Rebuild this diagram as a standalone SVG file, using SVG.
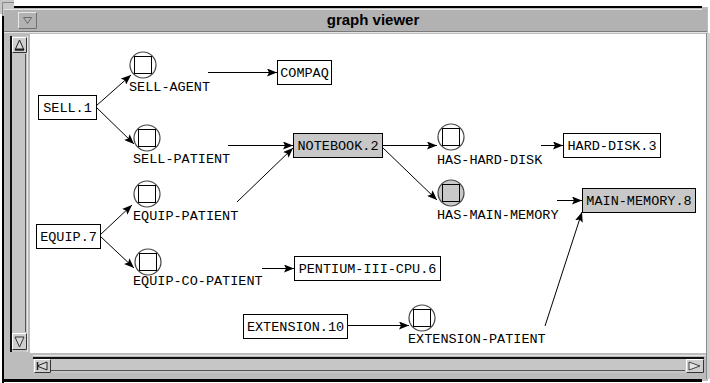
<svg xmlns="http://www.w3.org/2000/svg" width="710" height="383" viewBox="0 0 710 383">
<defs>
<style>
.lbl{font-family:"Liberation Mono","DejaVu Sans Mono",monospace;font-size:13.5px;fill:#000}
.box{fill:#fff;stroke:#000;stroke-width:1}
.gbox{fill:#c8c8c8;stroke:#000;stroke-width:1}
.ring{fill:#fff;stroke:#444;stroke-width:1.2}
.gring{fill:#c8c8c8;stroke:#444;stroke-width:1.2}
.sq{fill:none;stroke:#000;stroke-width:1}
.edge{fill:none;stroke:#000;stroke-width:1;marker-end:url(#arr)}
.title{font-family:"Liberation Sans",Arial,sans-serif;font-size:15px;font-weight:bold;fill:#000}
</style>
<marker id="arr" viewBox="0 0 10 8" refX="10" refY="4" markerWidth="10" markerHeight="8" markerUnits="userSpaceOnUse" orient="auto">
<path d="M0,0 L10,4 L0,8 L2,4 z" fill="#000"/>
</marker>
</defs>
<g id="window">
<rect x="0" y="0" width="710" height="383" fill="#fff"/>
<rect x="3" y="7" width="705" height="374" fill="#bcbcbc"/>
<rect x="0" y="0" width="14" height="14" fill="#c8c8c8"/>
<path d="M2.5,16 V2.5 H14" fill="none" stroke="#888" stroke-width="1"/>
<rect x="14" y="6" width="688" height="2" fill="#000"/>
<rect x="2" y="16" width="2" height="367" fill="#000"/>
<rect x="2" y="379" width="700" height="3" fill="#000"/>
<rect x="4" y="9" width="703" height="23" fill="#b2b2b2"/>
<line x1="4" y1="9.5" x2="702" y2="9.5" stroke="#e4e4e4"/>
<line x1="4" y1="31.5" x2="707" y2="31.5" stroke="#7a7a7a"/>
<line x1="4" y1="32.5" x2="707" y2="32.5" stroke="#e4e4e4"/>
<rect x="18.5" y="12.5" width="18" height="16" fill="#b2b2b2" stroke="#e8e8e8"/>
<path d="M36.5,12.5 V28.5 H18.5" fill="none" stroke="#707070"/>
<path d="M23.5,17.5 H31.5 L27.5,23.5 Z" fill="none" stroke="#6a6a6a"/>
<text class="title" x="373" y="25" text-anchor="middle">graph viewer</text>
<rect x="30" y="34" width="676" height="319" fill="#fff"/>
<rect x="706" y="33" width="1" height="346" fill="#8a8a8a"/>
<rect x="707" y="33" width="3" height="346" fill="#d0d0d0"/>
<rect x="10" y="36" width="18" height="316" fill="#c6c6c6"/>
<line x1="10.5" y1="36" x2="10.5" y2="352" stroke="#111"/>
<line x1="11.5" y1="36" x2="11.5" y2="352" stroke="#111"/>
<line x1="25.5" y1="54" x2="25.5" y2="332" stroke="#555"/>
<line x1="27.5" y1="36" x2="27.5" y2="352" stroke="#e6e6e6"/>
<rect x="12.5" y="37.5" width="14" height="15" fill="#cfcfcf" stroke="#fff"/>
<path d="M26.5,37.5 V52.5 H12.5" fill="none" stroke="#333"/>
<path d="M15,50 L19.5,40 L24,50 Z" fill="#d8d8d8" stroke="#222"/>
<line x1="15" y1="49.5" x2="24" y2="49.5" stroke="#222" stroke-width="2"/>
<rect x="12.5" y="333.5" width="14" height="16" fill="#cfcfcf" stroke="#fff"/>
<path d="M26.5,333.5 V349.5 H12.5" fill="none" stroke="#333"/>
<path d="M15,337 L24,337 L19.5,347 Z" fill="#d8d8d8" stroke="#333"/>
<rect x="33" y="357" width="671" height="16" fill="#c6c6c6"/>
<line x1="33" y1="355.5" x2="706" y2="355.5" stroke="#e6e6e6"/>
<line x1="33" y1="357.5" x2="704" y2="357.5" stroke="#111"/>
<line x1="33" y1="358.5" x2="704" y2="358.5" stroke="#111"/>
<line x1="51" y1="370.5" x2="685" y2="370.5" stroke="#555"/>
<rect x="34.5" y="359.5" width="16" height="13" fill="#cfcfcf" stroke="#fff"/>
<path d="M50.5,359.5 V372.5 H34.5" fill="none" stroke="#333"/>
<path d="M47,362 L37,366 L47,370 Z" fill="#d8d8d8" stroke="#222"/>
<line x1="37.5" y1="362" x2="37.5" y2="370" stroke="#222" stroke-width="1.5"/>
<rect x="686.5" y="359.5" width="17" height="13" fill="#cfcfcf" stroke="#fff"/>
<path d="M703.5,359.5 V372.5 H686.5" fill="none" stroke="#333"/>
<path d="M689,362 L700,366 L689,370 Z" fill="#e4e4e4" stroke="#444"/>
</g>
<g id="connectors">
<path class="edge" d="M96,106 L131,75"/>
<path class="edge" d="M96,107 L134,144"/>
<path class="edge" d="M208,72.5 L277,72.5"/>
<path class="edge" d="M228,145.5 L293,145.5"/>
<path class="edge" d="M237,202 L293,148"/>
<path class="edge" d="M382,145.5 L437,145.5"/>
<path class="edge" d="M382,147 L437,200"/>
<path class="edge" d="M541,145.5 L563,145.5"/>
<path class="edge" d="M557,200.5 L582,200.5"/>
<path class="edge" d="M545,326 L582,212"/>
<path class="edge" d="M100,235 L132,205"/>
<path class="edge" d="M100,236 L134,268"/>
<path class="edge" d="M262,268.5 L294,268.5"/>
<path class="edge" d="M347,325.5 L409,325.5"/>
</g>
<g id="sell-1"><rect class="box" x="38.5" y="95.5" width="58" height="24"/><text class="lbl" x="67.5" y="112" text-anchor="middle">SELL.1</text></g>
<g id="compaq"><rect class="box" x="277.5" y="60.5" width="54" height="24"/><text class="lbl" x="304.5" y="77" text-anchor="middle">COMPAQ</text></g>
<g id="notebook-2"><rect class="gbox" x="293.5" y="133.5" width="89" height="24"/><text class="lbl" x="338" y="150" text-anchor="middle">NOTEBOOK.2</text></g>
<g id="hard-disk-3"><rect class="box" x="563.5" y="133.5" width="97" height="24"/><text class="lbl" x="612" y="150" text-anchor="middle">HARD-DISK.3</text></g>
<g id="main-memory-8"><rect class="gbox" x="582.5" y="188.5" width="113" height="24"/><text class="lbl" x="639" y="205" text-anchor="middle">MAIN-MEMORY.8</text></g>
<g id="equip-7"><rect class="box" x="36.5" y="224.5" width="64" height="24"/><text class="lbl" x="68.5" y="241" text-anchor="middle">EQUIP.7</text></g>
<g id="pentium-iii-cpu-6"><rect class="box" x="294.5" y="256.5" width="146" height="24"/><text class="lbl" x="367.5" y="273" text-anchor="middle">PENTIUM-III-CPU.6</text></g>
<g id="extension-10"><rect class="box" x="243.5" y="314.5" width="104" height="24"/><text class="lbl" x="295.5" y="331" text-anchor="middle">EXTENSION.10</text></g>
<g id="sell-agent"><circle class="ring" cx="143" cy="65" r="13"/><rect class="sq" x="134.5" y="56.5" width="17" height="17"/><text class="lbl" x="129" y="90.5">SELL-AGENT</text></g>
<g id="sell-patient"><circle class="ring" cx="147" cy="138" r="13"/><rect class="sq" x="138.5" y="129.5" width="17" height="17"/><text class="lbl" x="133" y="163">SELL-PATIENT</text></g>
<g id="equip-patient"><circle class="ring" cx="147" cy="194" r="13"/><rect class="sq" x="138.5" y="185.5" width="17" height="17"/><text class="lbl" x="133" y="220">EQUIP-PATIENT</text></g>
<g id="equip-co-patient"><circle class="ring" cx="148" cy="262" r="13"/><rect class="sq" x="139.5" y="253.5" width="17" height="17"/><text class="lbl" x="133" y="285">EQUIP-CO-PATIENT</text></g>
<g id="has-hard-disk"><circle class="ring" cx="451" cy="137" r="13"/><rect class="sq" x="442.5" y="128.5" width="17" height="17"/><text class="lbl" x="437" y="164">HAS-HARD-DISK</text></g>
<g id="has-main-memory"><circle class="gring" cx="451" cy="193" r="13"/><rect class="sq" x="442.5" y="184.5" width="17" height="17"/><text class="lbl" x="437" y="219">HAS-MAIN-MEMORY</text></g>
<g id="extension-patient"><circle class="ring" cx="422" cy="318" r="13"/><rect class="sq" x="413.5" y="309.5" width="17" height="17"/><text class="lbl" x="408" y="343">EXTENSION-PATIENT</text></g>
</svg>
